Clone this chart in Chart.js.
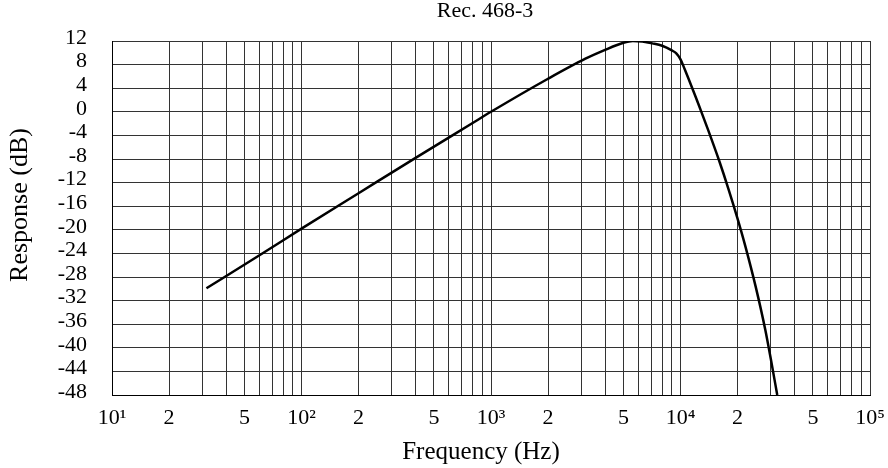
<!DOCTYPE html>
<html>
<head>
<meta charset="utf-8">
<script src="https://cdn.jsdelivr.net/npm/chart.js@4"></script>
<style>
  html, body { margin: 0; padding: 0; background: #fff; }
  #wrap { width: 888px; height: 468px; }
</style>
</head>
<body>
<div id="wrap"><canvas id="weightChart"></canvas></div>
<script>
// Rec. 468-3 weighting curve
var freqs = [31.5, 63, 100, 200, 400, 800, 1000, 2000, 3150, 4000, 5000, 5600, 6300, 7100, 8000, 9000, 9500, 10000, 10500, 11000, 12000, 12500, 14000, 16000, 18000, 20000, 22000, 25000, 28000, 30000, 32400];
var response = [-29.9, -23.9, -19.8, -13.8, -7.8, -1.9, 0, 5.6, 9.0, 10.5, 11.7, 12.0, 11.9, 11.6, 11.2, 10.4, 9.9, 8.9, 7.3, 5.7, 2.6, 1.1, -3.1, -8.3, -13.3, -18.1, -22.8, -29.8, -36.9, -42.0, -48];
var yTicks = [12, 8, 4, 0, -4, -8, -12, -16, -20, -24, -28, -32, -36, -40, -44, -48];
var xLabelled = [1, 2, 5];   // significands that get a label in each decade
var supers = { 1: '\u00b9', 2: '\u00b2', 3: '\u00b3', 4: '\u2074', 5: '\u2075' };

var serif = '"Liberation Serif", "DejaVu Serif", serif';

var points = freqs.map(function(f, i) { return { x: f, y: response[i] }; });

function splitLog(value) {
  var exp = Math.floor(Math.log10(value) + 1e-9);
  var sig = value / Math.pow(10, exp);
  return { exp: exp, sig: sig };
}

// title and axis titles, placed where the original has them
var textPlugin = {
  id: 'recText',
  afterDraw: function(chart) {
    var ctx = chart.ctx;
    ctx.save();
    ctx.fillStyle = '#000';
    ctx.textAlign = 'center';
    ctx.textBaseline = 'middle';
    ctx.font = '22px ' + serif;
    ctx.fillText('Rec. 468-3', 485, 11);
    ctx.font = '25px ' + serif;
    ctx.fillText('Frequency (Hz)', 481, 452);
    ctx.translate(20, 205);
    ctx.rotate(-Math.PI / 2);
    ctx.font = '26px ' + serif;
    ctx.fillText('Response (dB)', 0, 0);
    ctx.restore();
  }
};

var ctx = document.getElementById('weightChart').getContext('2d');
var weightChart = new Chart(ctx, {
  type: 'line',
  data: {
    datasets: [{
      label: 'Rec. 468-3',
      data: points,
      borderColor: '#000',
      borderWidth: 2.5,
      pointRadius: 0,
      fill: false,
      cubicInterpolationMode: 'monotone'
    }]
  },
  options: {
    responsive: true,
    maintainAspectRatio: false,
    animation: false,
    layout: { padding: { left: 0, right: 18, top: 41, bottom: 0 } },
    scales: {
      x: {
        type: 'logarithmic',
        min: 10,
        max: 100000,
        border: { color: '#000', width: 1 },
        grid: { color: '#333', lineWidth: 1, drawTicks: false },
        afterBuildTicks: function(scale) {
          // keep only 1..9 x 10^n
          scale.ticks = scale.ticks.filter(function(t) {
            var s = splitLog(t.value).sig;
            return Math.abs(s - Math.round(s)) < 1e-6;
          });
        },
        ticks: {
          autoSkip: false,
          maxRotation: 0,
          padding: 10,
          color: '#000',
          font: { family: serif, size: 22 },
          callback: function(value) {
            var p = splitLog(value);
            var sig = Math.round(p.sig);
            if (xLabelled.indexOf(sig) < 0) return '';
            if (sig === 1) return '10' + supers[p.exp];
            return String(sig);
          }
        },
        afterFit: function(scale) {
          scale.height = 73;
          scale.paddingLeft = 0;
          scale.paddingRight = 0;
        }
      },
      y: {
        min: -48,
        max: 12,
        border: { color: '#000', width: 1 },
        grid: { color: '#333', lineWidth: 1, drawTicks: false },
        afterBuildTicks: function(scale) {
          scale.ticks = yTicks.map(function(v) { return { value: v }; });
        },
        ticks: {
          autoSkip: false,
          padding: 25,
          labelOffset: -3,
          color: '#000',
          font: { family: serif, size: 22 }
        },
        afterFit: function(scale) { scale.width = 112; }
      }
    },
    plugins: {
      legend: { display: false },
      title: { display: false },
      tooltip: { enabled: false }
    }
  },
  plugins: [textPlugin]
});
</script>
</body>
</html>
